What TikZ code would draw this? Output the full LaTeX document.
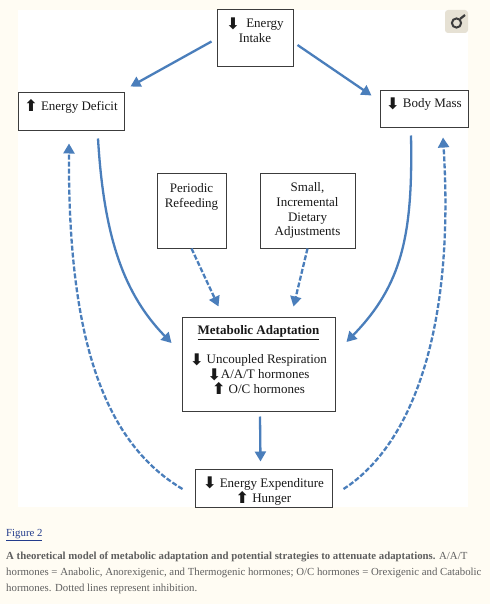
\documentclass[tikz,border=0pt]{standalone}
\usepackage{fontspec}
\setmainfont{Liberation Serif}
\newfontfamily\glyphfont{DejaVu Sans}
\usetikzlibrary{arrows.meta,calc}
\definecolor{inkBlack}{RGB}{25, 25, 25}
\definecolor{inkRule}{RGB}{60, 60, 60}
\definecolor{inkFlow}{RGB}{74, 126, 187}
\definecolor{inkPage}{RGB}{255, 252, 243}
\definecolor{inkLink}{RGB}{35, 60, 140}
\definecolor{inkNote}{RGB}{95, 95, 95}
\definecolor{inkBadge}{RGB}{230, 225, 212}
\newcommand{\dnmark}{\raisebox{-1.5pt}{\smash{\glyphfont\bfseries\fontsize{16pt}{11pt}\selectfont ⬇}}}
\newcommand{\upmark}{\raisebox{-1.5pt}{\smash{\glyphfont\bfseries\fontsize{16pt}{11pt}\selectfont ⬆}}}
\tikzset{
  metaBox/.style={draw=inkRule, fill=white, line width=1pt, align=center, inner sep=0pt, text=inkBlack,
    font=\fontsize{13pt}{14.8pt}\selectfont},
  flowArrow/.style={draw=inkFlow, line width=2.3pt, -{Triangle[length=10pt,width=11pt]}},
  inhibArrow/.style={flowArrow, dash pattern=on 5pt off 2pt},
  noteText/.style={anchor=north west, align=left, inner sep=0pt, text=inkNote,
    font=\fontsize{10.8pt}{16pt}\selectfont}
}
\begin{document}
\begin{tikzpicture}[x=1pt,y=-1pt]
  \useasboundingbox (0,0) rectangle (490,604);
  \fill[inkPage] (0,0) rectangle (490,604);
  \fill[white] (18,10) rectangle (468,507);
  % badge in the corner
  \fill[inkBadge, rounded corners=3pt] (445,10) rectangle (468,33);
  \draw[inkRule, line width=2pt] (456.5,23) circle (4.6pt);
  \draw[inkRule, line width=2.2pt] (460,19) -- (465,15);

  \node[metaBox, minimum width=76pt, minimum height=57pt] (intake) at (255,38.5)
    {\dnmark\ \ Energy\\Intake\\\mbox{}};
  \node[metaBox, minimum width=106pt, minimum height=38pt] (deficit) at (71,112)
    {\upmark\ Energy Deficit\\[-2pt]\mbox{\fontsize{3pt}{3pt}\selectfont~}};
  \node[metaBox, minimum width=88pt, minimum height=37pt] (mass) at (424,109.5)
    {\dnmark\ Body Mass\\[-2pt]\mbox{\fontsize{3pt}{3pt}\selectfont~}};
  \node[metaBox, minimum width=69pt, minimum height=75pt] (refeed) at (191.5,210.5)
    {Periodic\\Refeeding\\\mbox{}\\\mbox{}};
  \node[metaBox, minimum width=95pt, minimum height=75pt] (diet) at (307.5,210.5)
    {Small,\\Incremental\\Dietary\\Adjustments};
  \node[metaBox, minimum width=153pt, minimum height=94pt] (adapt) at (258.5,364)
    {\textbf{\underline{Metabolic Adaptation}}\\[14pt]\dnmark\ Uncoupled Respiration\\\dnmark A/A/T hormones\\\upmark\ O/C hormones\\[-6pt]\mbox{}};
  \node[metaBox, minimum width=137pt, minimum height=38pt] (spend) at (263.5,488)
    {\rule{0pt}{16pt}\dnmark\ Energy Expenditure\\\upmark\ Hunger};

  % solid links
  \draw[flowArrow] ([shift={(-5,3)}]intake.west) -- ([shift={(6,-6)}]deficit.north east);
  \draw[flowArrow] ([shift={(4,6.5)}]intake.east) -- ([shift={(-8,5)}]mass.north west);
  \draw[flowArrow] ([shift={(27,7)}]deficit.south) .. controls (104,240) and (125,295) .. ([shift={(-10,-21)}]adapt.west);
  \draw[flowArrow] ([shift={(-13,7)}]mass.south) .. controls (413,235) and (402,285) .. ([shift={(11,-22)}]adapt.east);
  \draw[flowArrow] ([shift={(1.5,5)}]adapt.south) -- ([shift={(-3,-7)}]spend.north);

  % dashed links
  \draw[inhibArrow] (refeed.south) -- ([shift={(-40,-10)}]adapt.north);
  \draw[inhibArrow] (diet.south) -- ([shift={(35,-10)}]adapt.north);
  \draw[inhibArrow] ([shift={(-12,1)}]spend.west) .. controls (100,440) and (68,330) .. ([shift={(-2,12)}]deficit.south);
  \draw[inhibArrow] ([shift={(11,1)}]spend.east) .. controls (412,445) and (455,330) .. ([shift={(19,9)}]mass.south);

  \node[noteText, text=inkLink] (figlabel) at (6,529) {\underline{Figure 2}};
  \node[noteText] (caption) at (6,552)
    {\textbf{A theoretical model of metabolic adaptation and potential strategies to attenuate adaptations.} A/A/T\\
     hormones = Anabolic, Anorexigenic, and Thermogenic hormones; O/C hormones = Orexigenic and Catabolic\\
     hormones. Dotted lines represent inhibition.};
\end{tikzpicture}
\end{document}
